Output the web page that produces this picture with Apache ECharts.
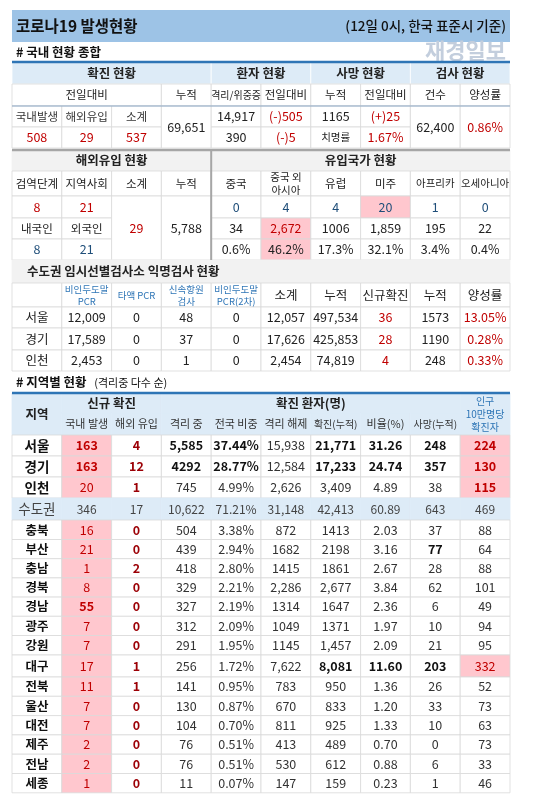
<!DOCTYPE html>
<html>
<head>
<meta charset="utf-8">
<script src="https://cdn.jsdelivr.net/npm/echarts@6/dist/echarts.min.js"></script>
<style>html,body{margin:0;padding:0;background:#fff}#main{width:548px;height:799px}</style>
</head>
<body>
<div id="main"></div>
<script>
// ---- 데이터 ----
var sumHead = ['확진 현황', '환자 현황', '사망 현황', '검사 현황'];
var sumSub = ['누적', '격리/위중증', '전일대비', '누적', '전일대비', '건수', '양성률'];
var confirmLabels = ['국내발생', '해외유입', '소계'];
var confirmToday = ['508', '29', '537'];
var confirmTotal = '69,651';
var patients = ['14,917', '(-)505', '390', '(-)5'];
var deaths = ['1165', '(+)25', '치명률', '1.67%'];
var tests = ['62,400', '0.86%'];

var overseasHead = ['검역단계', '지역사회', '소계', '누적', '중국', '중국 외\n아시아', '유럽', '미주', '아프리카', '오세아니아'];
var quarantineRow = ['8', '21'];
var citizenLabels = ['내국인', '외국인'];
var citizenVals = ['8', '21'];
var overseasSub = '29';
var overseasTotal = '5,788';
var regionToday = ['0', '4', '4', '20', '1', '0'];
var regionTotal = ['34', '2,672', '1006', '1,859', '195', '22'];
var regionShare = ['0.6%', '46.2%', '17.3%', '32.1%', '3.4%', '0.4%'];

var anonHead = ['', '비인두도말\nPCR', '타액 PCR', '신속항원\n검사', '비인두도말\nPCR(2차)', '소계', '누적', '신규확진', '누적', '양성률'];
var anonRows = [
	['서울', '12,009', '0', '48', '0', '12,057', '497,534', '36', '1573', '13.05%'],
	['경기', '17,589', '0', '37', '0', '17,626', '425,853', '28', '1190', '0.28%'],
	['인천', '2,453', '0', '1', '0', '2,454', '74,819', '4', '248', '0.33%']
];

var regionHead = ['국내 발생', '해외 유입', '격리 중', '전국 비중', '격리 해제', '확진(누적)', '비율(%)', '사망(누적)'];
var regions = ['서울', '경기', '인천', '수도권', '충북', '부산', '충남', '경북', '경남', '광주', '강원', '대구', '전북', '울산', '대전', '제주', '전남', '세종'];
var newLocal = [163, 163, 20, 346, 16, 21, 1, 8, 55, 7, 7, 17, 11, 7, 7, 2, 2, 1];
var newImport = [4, 12, 1, 17, 0, 0, 2, 0, 0, 0, 0, 1, 1, 0, 0, 0, 0, 0];
var isolating = ['5,585', '4292', '745', '10,622', '504', '439', '418', '329', '327', '312', '291', '256', '141', '130', '104', '76', '76', '11'];
var share = ['37.44%', '28.77%', '4.99%', '71.21%', '3.38%', '2.94%', '2.80%', '2.21%', '2.19%', '2.09%', '1.95%', '1.72%', '0.95%', '0.87%', '0.70%', '0.51%', '0.51%', '0.07%'];
var released = ['15,938', '12,584', '2,626', '31,148', '872', '1682', '1415', '2,286', '1314', '1049', '1145', '7,622', '783', '670', '811', '413', '530', '147'];
var cumulative = ['21,771', '17,233', '3,409', '42,413', '1413', '2198', '1861', '2,677', '1647', '1371', '1,457', '8,081', '950', '833', '925', '489', '612', '159'];
var ratio = ['31.26', '24.74', '4.89', '60.89', '2.03', '3.16', '2.67', '3.84', '2.36', '1.97', '2.09', '11.60', '1.36', '1.20', '1.33', '0.70', '0.88', '0.23'];
var deathsCum = ['248', '357', '38', '643', '37', '77', '28', '62', '6', '10', '21', '203', '26', '33', '10', '0', '6', '1'];
var per100k = ['224', '130', '115', '469', '88', '64', '88', '101', '49', '94', '95', '332', '52', '73', '63', '73', '33', '46'];

// ---- 레이아웃 / 스타일 ----
var FONT = '"Noto Sans CJK KR", "Noto Sans", sans-serif';
var RED = '#c00000', BLUE = '#1f4e79', LBLUE = '#2e75b6', DARKRED = '#9c0006';
var PINK = '#ffc7ce', HEAD = '#ddebf7', GRAY = '#f2f2f2';
var sec1Y = [62, 84, 106, 127, 148];
var sec2Y = [150, 171, 196, 218, 239, 260];
var sec3Y = [260, 283, 307, 328, 350, 371];
var sec4HeadY = [393, 413, 435];
var sec4Y = [435, 456, 477, 498, 520, 539.5, 558.7, 577.9, 597.1, 616.3, 635.5, 655, 677, 696.3, 715.6, 734.9, 754.2, 773.5, 792.8];
var boldCells = { '서울': [1, 3, 4, 6, 7, 8, 9], '경기': [1, 3, 4, 6, 7, 8, 9], '인천': [9], '부산': [8], '경남': [1], '대구': [6, 7, 8] };
var pink100k = ['서울', '경기', '인천', '대구'];

var cells = [];
var rules = [];
function cell(c0, c1, y0, y1, t, o) {
	cells.push(Object.assign({ c0: c0, c1: c1, y0: y0, y1: y1, t: t }, o || {}));
}
function rule(c0, c1, y0, y1, color, width) {
	rules.push({ c0: c0, c1: c1, y0: y0, y1: y1, color: color, width: width });
}

// 제목
cell(0, 10, 10, 42, '코로나19 발생현황', { fill: '#9dc3e6', stroke: 'none', align: 'left', size: 15.5, bold: true, color: '#111' });
cell(0, 10, 10, 42, '(12일 0시, 한국 표준시 기준)', { fill: 'none', stroke: 'none', align: 'right', size: 13.5, color: '#111', weight: 500 });
cell(0, 5, 42, 62, '# 국내 현황 종합', { fill: 'none', stroke: 'none', align: 'left', size: 12.5, bold: true, color: '#111' });
cell(6, 10, 40, 62, '재경일보', { fill: 'none', stroke: 'none', align: 'right', size: 22, bold: true, color: '#c3cedd' });

// 1. 국내 현황 종합
[[0, 4], [4, 6], [6, 8], [8, 10]].forEach(function(s, i) {
	cell(s[0], s[1], sec1Y[0], sec1Y[1], sumHead[i], { fill: HEAD, stroke: '#fff', bold: true, size: 12.5 });
});
cell(0, 3, sec1Y[1], sec1Y[2], '전일대비', { size: 11.5 });
sumSub.forEach(function(t, i) {
	cell(3 + i, 4 + i, sec1Y[1], sec1Y[2], t, { size: t.length > 4 ? 10 : 11.5 });
});
confirmLabels.forEach(function(t, i) {
	cell(i, i + 1, sec1Y[2], sec1Y[3], t, { size: 11.5, color: '#333' });
	cell(i, i + 1, sec1Y[3], sec1Y[4], confirmToday[i], { color: RED });
});
cell(3, 4, sec1Y[2], sec1Y[4], confirmTotal);
cell(4, 5, sec1Y[2], sec1Y[3], patients[0]);
cell(5, 6, sec1Y[2], sec1Y[3], patients[1], { color: RED });
cell(4, 5, sec1Y[3], sec1Y[4], patients[2]);
cell(5, 6, sec1Y[3], sec1Y[4], patients[3], { color: RED });
cell(6, 7, sec1Y[2], sec1Y[3], deaths[0]);
cell(7, 8, sec1Y[2], sec1Y[3], deaths[1], { color: RED });
cell(6, 7, sec1Y[3], sec1Y[4], deaths[2], { size: 10.5 });
cell(7, 8, sec1Y[3], sec1Y[4], deaths[3], { color: RED });
cell(8, 9, sec1Y[2], sec1Y[4], tests[0]);
cell(9, 10, sec1Y[2], sec1Y[4], tests[1], { color: RED });
rule(0, 10, 62, 62, LBLUE, 2.5);
rule(0, 10, 106, 106, '#8ea9c8', 1.2);
rule(0, 10, 150, 150, '#a6a6a6', 2.5);

// 2. 해외유입 현황
cell(0, 4, sec2Y[0], sec2Y[1], '해외유입 현황', { fill: GRAY, stroke: GRAY, bold: true, size: 12.5 });
cell(4, 10, sec2Y[0], sec2Y[1], '유입국가 현황', { fill: GRAY, stroke: GRAY, bold: true, size: 12.5 });
overseasHead.forEach(function(t, i) {
	cell(i, i + 1, sec2Y[1], sec2Y[2], t, { size: (i === 5 || i >= 8) ? 10.5 : 11.5, lh: 12.5 });
});
for (var i = 0; i < 2; i++) {
	cell(i, i + 1, sec2Y[2], sec2Y[3], quarantineRow[i], { color: RED });
	cell(i, i + 1, sec2Y[3], sec2Y[4], citizenLabels[i], { size: 11.5 });
	cell(i, i + 1, sec2Y[4], sec2Y[5], citizenVals[i], { color: BLUE });
}
cell(2, 3, sec2Y[2], sec2Y[5], overseasSub, { color: RED });
cell(3, 4, sec2Y[2], sec2Y[5], overseasTotal);
regionToday.forEach(function(t, i) {
	cell(4 + i, 5 + i, sec2Y[2], sec2Y[3], t, { color: BLUE, fill: i === 3 ? PINK : '#fff' });
	cell(4 + i, 5 + i, sec2Y[3], sec2Y[4], regionTotal[i], { color: i === 1 ? RED : '#222', fill: i === 1 ? PINK : '#fff' });
	cell(4 + i, 5 + i, sec2Y[4], sec2Y[5], regionShare[i], { fill: i === 1 ? PINK : '#fff' });
});
rule(4, 4, 150, 260, '#a6a6a6', 2);

// 3. 수도권 임시선별검사소
cell(0, 10, sec3Y[0], sec3Y[1], '수도권 임시선별검사소 익명검사 현황', { fill: GRAY, stroke: GRAY, bold: true, size: 12.5, align: 'left', pad: 15 });
anonHead.forEach(function(t, i) {
	var blue = i >= 1 && i <= 4;
	cell(i, i + 1, sec3Y[1], sec3Y[2], t, { size: blue ? 9.5 : 12.5, color: blue ? LBLUE : '#222', lh: 12 });
});
anonRows.forEach(function(row, r) {
	row.forEach(function(t, i) {
		cell(i, i + 1, sec3Y[2 + r], sec3Y[3 + r], t, { color: (i === 7 || i === 9) ? RED : '#222' });
	});
});

// 4. 지역별 현황
cell(0, 3, 373, 392, '# 지역별 현황', { fill: 'none', stroke: 'none', align: 'left', size: 12.5, bold: true, color: '#111' });
cell(1.65, 4, 373, 392, '(격리중 다수 순)', { fill: 'none', stroke: 'none', align: 'left', pad: 0, size: 11, color: '#111' });
cell(0, 1, sec4HeadY[0], sec4HeadY[2], '지역', { fill: HEAD, stroke: HEAD, bold: true, size: 12.5 });
cell(1, 3, sec4HeadY[0], sec4HeadY[1], '신규 확진', { fill: HEAD, stroke: HEAD, bold: true, size: 12.5 });
cell(3, 9, sec4HeadY[0], sec4HeadY[1], '확진 환자(명)', { fill: HEAD, stroke: HEAD, bold: true, size: 12.5 });
cell(9, 10, sec4HeadY[0], sec4HeadY[2], '인구\n10만명당\n확진자', { fill: HEAD, stroke: HEAD, size: 10, lh: 13, color: LBLUE });
regionHead.forEach(function(t, i) {
	cell(1 + i, 2 + i, sec4HeadY[1], sec4HeadY[2], t, { fill: HEAD, stroke: HEAD, size: t.length > 5 ? 10 : 11, color: '#333' });
});
rule(0, 10, 393, 393, LBLUE, 2.5);

regions.forEach(function(name, r) {
	var y0 = sec4Y[r], y1 = sec4Y[r + 1];
	var metro = name === '수도권';
	var bolds = boldCells[name] || [];
	var vals = [name, newLocal[r], newImport[r], isolating[r], share[r], released[r], cumulative[r], ratio[r], deathsCum[r], per100k[r]];
	vals.forEach(function(v, i) {
		var o = { size: 12.5, color: '#333', bold: bolds.indexOf(i) >= 0 };
		if (metro) {
			o.fill = HEAD;
			o.stroke = HEAD;
			o.size = i === 0 ? 13.5 : 12;
			o.color = '#444';
		} else {
			if (i === 0) { o.bold = true; o.color = '#111'; o.size = r < 3 ? 13.5 : 12.5; }
			if (i === 1) { o.fill = PINK; o.color = RED; }
			if (i === 2) { o.bold = true; o.color = DARKRED; }
			if (i >= 3 && o.bold) o.color = '#111';
			if (i === 9 && pink100k.indexOf(name) >= 0) { o.fill = PINK; o.color = RED; }
		}
		cell(i, i + 1, y0, y1, String(v), o);
	});
});

// ---- 차트 ----
function renderCell(params, api) {
	var c = cells[api.value(2)];
	var p0 = api.coord([c.c0, c.y0]), p1 = api.coord([c.c1, c.y1]);
	var w = p1[0] - p0[0], h = p1[1] - p0[1];
	var kids = [{
		type: 'rect',
		shape: { x: p0[0], y: p0[1], width: w, height: h },
		style: {
			fill: c.fill === 'none' ? 'rgba(0,0,0,0)' : (c.fill || '#fff'),
			stroke: c.stroke === 'none' ? null : (c.stroke || '#d9d9d9'),
			lineWidth: 0.8
		}
	}];
	if (c.t) {
		var align = c.align || 'center';
		var pad = c.pad === undefined ? 4 : c.pad;
		var x = align === 'left' ? p0[0] + pad : align === 'right' ? p1[0] - pad : p0[0] + w / 2;
		kids.push({
			type: 'text',
			style: {
				text: c.t, x: x, y: p0[1] + h / 2,
				align: align, verticalAlign: 'middle',
				fill: c.color || '#222',
				fontSize: c.size || 12.5,
				fontWeight: c.bold ? 'bold' : (c.weight || 'normal'),
				fontFamily: FONT,
				lineHeight: c.lh
			}
		});
	}
	return { type: 'group', children: kids };
}

function renderRule(params, api) {
	var l = rules[api.value(2)];
	var p0 = api.coord([l.c0, l.y0]), p1 = api.coord([l.c1, l.y1]);
	return {
		type: 'line',
		shape: { x1: p0[0], y1: p0[1], x2: p1[0], y2: p1[1] },
		style: { stroke: l.color, lineWidth: l.width }
	};
}

var chart = echarts.init(document.getElementById('main'));
chart.setOption({
	animation: false,
	backgroundColor: '#fff',
	grid: { left: 12, right: 38, top: 0, bottom: 0 },
	xAxis: { type: 'value', min: 0, max: 10, show: false },
	yAxis: { type: 'value', min: 0, max: 799, inverse: true, show: false },
	series: [{
		type: 'custom',
		clip: false,
		renderItem: renderCell,
		encode: { x: 0, y: 1 },
		data: cells.map(function(c, i) { return [c.c0, c.y0, i]; }),
		z: 2
	}, {
		type: 'custom',
		clip: false,
		renderItem: renderRule,
		encode: { x: 0, y: 1 },
		data: rules.map(function(l, i) { return [l.c0, l.y0, i]; }),
		z: 3
	}]
});
</script>
</body>
</html>
